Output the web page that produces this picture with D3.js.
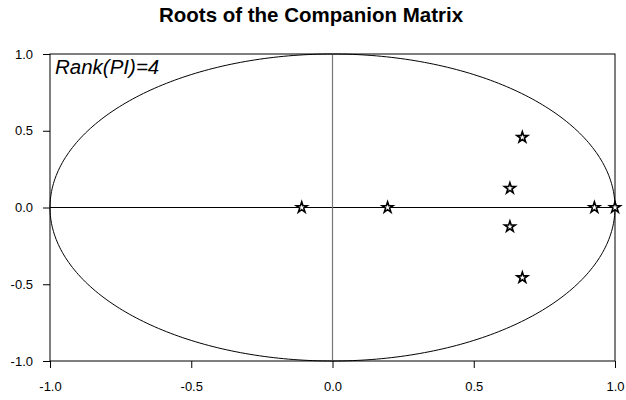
<!DOCTYPE html>
<html>
<head>
<meta charset="utf-8">
<script src="https://cdn.jsdelivr.net/npm/d3@7"></script>
<style>
  body { margin: 0; background: #fff; }
  svg { display: block; font-family: "Liberation Sans", Arial, sans-serif; }
</style>
</head>
<body>
<svg id="chart" width="626" height="400"></svg>
<script>
// Roots of the companion matrix (real, imaginary)
const rootsRe = [-0.109, 0.195, 0.628, 0.628, 0.672, 0.672, 0.927, 1.0];
const rootsIm = [0, 0, 0.125, -0.125, 0.457, -0.457, 0, 0];
const xTicks = [-1.0, -0.5, 0.0, 0.5, 1.0];
const yTicks = [-1.0, -0.5, 0.0, 0.5, 1.0];
const titleText = "Roots of the Companion Matrix";
const noteText = "Rank(PI)=4";

const svg = d3.select("#chart");
const m = { left: 50, right: 11, top: 54, bottom: 39 };
const W = 626, H = 400;

const x = d3.scaleLinear().domain([-1, 1]).range([m.left, W - m.right]);
const y = d3.scaleLinear().domain([-1, 1]).range([H - m.bottom, m.top]);

// Title
svg.append("text")
  .attr("x", 311).attr("y", 22)
  .attr("text-anchor", "middle")
  .attr("font-size", 20.5).attr("font-weight", "bold")
  .text(titleText);

// Unit circle
const theta = d3.range(0, 361, 1).map(d => d * Math.PI / 180);
svg.append("path")
  .datum(theta)
  .attr("fill", "none").attr("stroke", "#000").attr("stroke-width", 1)
  .attr("d", d3.line().x(t => x(Math.cos(t))).y(t => y(Math.sin(t))));

// Zero lines
svg.append("line")
  .attr("x1", x(-1)).attr("x2", x(1)).attr("y1", y(0)).attr("y2", y(0))
  .attr("stroke", "#000").attr("stroke-width", 1.2);
svg.append("line")
  .attr("x1", x(0)).attr("x2", x(0)).attr("y1", y(-1)).attr("y2", y(1))
  .attr("stroke", "#777").attr("stroke-width", 1.2);

// Frame
svg.append("rect")
  .attr("x", x(-1)).attr("y", y(1))
  .attr("width", x(1) - x(-1)).attr("height", y(-1) - y(1))
  .attr("fill", "none").attr("stroke", "#000").attr("stroke-width", 1);

// Axes (plain hyphen for negatives)
const fmt = v => d3.format(".1f")(v).replace("\u2212", "-");
const xAxis = svg.append("g")
  .attr("transform", `translate(0,${y(-1)})`)
  .call(d3.axisBottom(x).tickValues(xTicks).tickFormat(fmt).tickSize(7).tickPadding(14));
const yAxis = svg.append("g")
  .attr("transform", `translate(${x(-1)},0)`)
  .call(d3.axisLeft(y).tickValues(yTicks).tickFormat(fmt).tickSize(7).tickPadding(10));
[xAxis, yAxis].forEach(g => {
  g.select(".domain").remove();
  g.selectAll("text").attr("font-size", 13).attr("fill", "#000")
    .attr("font-family", "Liberation Sans, Arial, sans-serif");
  g.selectAll("line").attr("stroke", "#000");
});

// Root markers
const star = d3.symbol().type(d3.symbolStar).size(36);
svg.append("g").selectAll("path")
  .data(rootsRe.map((re, i) => [re, rootsIm[i]]))
  .join("path")
  .attr("transform", d => `translate(${x(d[0])},${y(d[1])})`)
  .attr("d", star)
  .attr("fill", "#fff").attr("stroke", "#000").attr("stroke-width", 1.6);

// Annotation
svg.append("text")
  .attr("x", 55).attr("y", 74)
  .attr("font-size", 20.5).attr("font-style", "italic")
  .text(noteText);
</script>
</body>
</html>
